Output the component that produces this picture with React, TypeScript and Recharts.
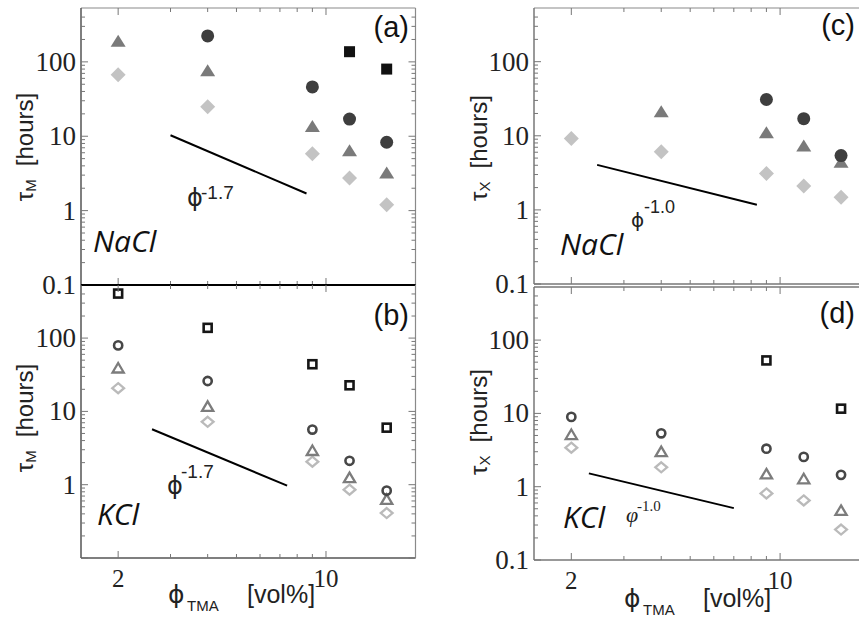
import React from 'react';
import { ScatterChart, Scatter, XAxis, YAxis } from 'recharts';

const CHART_W = 880;
const CHART_H = 621;

// ---------- categories & ticks ----------
const phi = [2, 4, 9, 12, 16];
const xDomain = [1.5, 20];
const yDomain = [0.1, 530];
const xTickValues = [2, 3, 4, 5, 6, 7, 8, 9, 10];
const xMajorTicks = [2, 10];
const xTickLabels = ['2', '10'];
const yTickValues = [0.1, 0.2, 0.3, 0.4, 0.5, 0.6, 0.7, 0.8, 0.9, 1, 2, 3, 4, 5, 6, 7, 8, 9, 10, 20, 30, 40, 50, 60, 70, 80, 90, 100, 200, 300, 400];
const yMajorTicks = [0.1, 1, 10, 100];
const yTickLabels = ['0.1', '1', '10', '100'];

// ---------- (a) NaCl, tau_M ----------
const aSquare = [null, null, null, 137, 80];
const aCircle = [null, 223, 46, 17, 8.3];
const aTriangle = [190, 76, 13.5, 6.4, 3.2];
const aDiamond = [67, 25, 5.8, 2.75, 1.2];
const aFitX = [3, 8.6];
const aFitY = [10.3, 1.7];

// ---------- (b) KCl, tau_M ----------
const bSquare = [405, 138, 44, 22.7, 6.0];
const bCircle = [79.5, 26, 5.65, 2.12, 0.83];
const bTriangle = [38.7, 11.6, 2.9, 1.24, 0.625];
const bDiamond = [20.7, 7.2, 2.06, 0.855, 0.41];
const bFitX = [2.6, 7.4];
const bFitY = [5.7, 0.97];

// ---------- (c) NaCl, tau_X ----------
const cSquare = [null, null, null, null, null];
const cCircle = [null, null, 30.9, 17, 5.4];
const cTriangle = [null, 21.1, 11, 7.3, 4.4];
const cDiamond = [9.2, 6.1, 3.1, 2.1, 1.48];
const cFitX = [2.44, 8.36];
const cFitY = [4.05, 1.17];

// ---------- (d) KCl, tau_X ----------
const dSquare = [null, null, 52.8, null, 11.6];
const dCircle = [8.96, 5.35, 3.3, 2.55, 1.45];
const dTriangle = [5.1, 2.98, 1.48, 1.27, 0.47];
const dDiamond = [3.4, 1.84, 0.81, 0.65, 0.26];
const dFitX = [2.29, 7.0];
const dFitY = [1.52, 0.51];

const toPoints = (vals: (number | null)[]) =>
  phi.map((x, i) => ({ x, y: vals[i] })).filter((p) => p.y != null);
const toLine = (xs: number[], ys: number[]) => xs.map((x, i) => ({ x, y: ys[i] }));

const FILL = { square: '#111111', circle: '#3e3e3e', triangle: '#7a7a7a', diamond: '#c3c3c3' };
const STROKE = { square: '#161616', circle: '#474747', triangle: '#7c7c7c', diamond: '#bababa' };

function Marker({ cx, cy, kind, filled }: any) {
  if (cx == null || cy == null || isNaN(cx) || isNaN(cy)) return <g />;
  if (filled) {
    const f = (FILL as any)[kind];
    if (kind === 'square') return <rect x={cx - 5.5} y={cy - 5.5} width={11} height={11} fill={f} />;
    if (kind === 'circle') return <circle cx={cx} cy={cy} r={6.5} fill={f} />;
    if (kind === 'triangle')
      return <polygon points={`${cx},${cy - 6.5} ${cx + 7.5},${cy + 5.5} ${cx - 7.5},${cy + 5.5}`} fill={f} />;
    return <polygon points={`${cx},${cy - 7.5} ${cx + 7.5},${cy} ${cx},${cy + 7.5} ${cx - 7.5},${cy}`} fill={f} />;
  }
  const s = (STROKE as any)[kind];
  if (kind === 'square')
    return <rect x={cx - 4} y={cy - 4} width={8} height={8} fill="none" stroke={s} strokeWidth={2.6} />;
  if (kind === 'circle') return <circle cx={cx} cy={cy} r={4.1} fill="none" stroke={s} strokeWidth={2.6} />;
  if (kind === 'triangle')
    return (
      <polygon
        points={`${cx},${cy - 5.3} ${cx + 5.6},${cy + 4.2} ${cx - 5.6},${cy + 4.2}`}
        fill="none"
        stroke={s}
        strokeWidth={2.3}
        strokeLinejoin="miter"
      />
    );
  return (
    <polygon
      points={`${cx},${cy - 5} ${cx + 5.9},${cy} ${cx},${cy + 5} ${cx - 5.9},${cy}`}
      fill="none"
      stroke={s}
      strokeWidth={2.3}
    />
  );
}

const TICK_COLOR = '#777';
const LW = 30;
const RW = 6;
const TH = 4;
const BH = 30;

function makeYTick(side: 'left' | 'right', labelVals: number[]) {
  return (props: any) => {
    const { x, y, payload } = props;
    const v = payload.value;
    const idx = yMajorTicks.indexOf(v);
    const len = idx >= 0 ? 7 : 4;
    const dir = side === 'left' ? 1 : -1;
    return (
      <g>
        <line x1={x} x2={x + dir * len} y1={y} y2={y} stroke={TICK_COLOR} strokeWidth={1} />
        {side === 'left' && idx >= 0 && labelVals.includes(v) ? (
          <text
            x={x - 5}
            y={y + 9}
            textAnchor="end"
            fontFamily="'Liberation Serif', 'DejaVu Serif', serif"
            fontSize={27}
            fill="#222"
          >
            {yTickLabels[idx]}
          </text>
        ) : null}
      </g>
    );
  };
}

function makeXTick(side: 'top' | 'bottom', showLabels: boolean) {
  return (props: any) => {
    const { x, y, payload } = props;
    const v = payload.value;
    const idx = xMajorTicks.indexOf(v);
    const len = idx >= 0 ? 7 : 4;
    const dir = side === 'bottom' ? -1 : 1;
    return (
      <g>
        <line x1={x} x2={x} y1={y} y2={y + dir * len} stroke={TICK_COLOR} strokeWidth={1} />
        {side === 'bottom' && showLabels && idx >= 0 ? (
          <text
            x={x}
            y={y + 29}
            textAnchor="middle"
            fontFamily="'Liberation Serif', 'DejaVu Serif', serif"
            fontSize={25}
            fill="#222"
          >
            {xTickLabels[idx]}
          </text>
        ) : null}
      </g>
    );
  };
}

type Frame = { stroke: string; w: number };

function Panel({
  rect,
  sq,
  ci,
  tr,
  di,
  fit,
  filled,
  yLabels,
  xLabels,
  frame,
}: {
  rect: { x0: number; x1: number; y0: number; y1: number };
  sq: (number | null)[];
  ci: (number | null)[];
  tr: (number | null)[];
  di: (number | null)[];
  fit: { x: number; y: number }[];
  filled: boolean;
  yLabels: number[];
  xLabels: boolean;
  frame: { left: Frame; right: Frame; top: Frame; bottom: Frame };
}) {
  const margin = {
    left: rect.x0 - LW,
    right: CHART_W - rect.x1 - RW,
    top: rect.y0 - TH,
    bottom: CHART_H - rect.y1 - BH,
  };
  const series = [
    { kind: 'diamond', data: toPoints(di) },
    { kind: 'triangle', data: toPoints(tr) },
    { kind: 'circle', data: toPoints(ci) },
    { kind: 'square', data: toPoints(sq) },
  ];
  return (
    <div style={{ position: 'absolute', left: 0, top: 0, width: CHART_W, height: CHART_H }}>
      <ScatterChart width={CHART_W} height={CHART_H} margin={margin}>
        <XAxis
          xAxisId="b"
          dataKey="x"
          type="number"
          scale="log"
          domain={xDomain}
          ticks={xTickValues}
          interval={0}
          orientation="bottom"
          height={BH}
          tickSize={0}
          tickMargin={0}
          tickLine={false}
          tick={makeXTick('bottom', xLabels)}
          axisLine={{ stroke: frame.bottom.stroke, strokeWidth: frame.bottom.w }}
          allowDataOverflow
        />
        <XAxis
          xAxisId="t"
          dataKey="x"
          type="number"
          scale="log"
          domain={xDomain}
          ticks={xTickValues}
          interval={0}
          orientation="top"
          height={TH}
          tickSize={0}
          tickMargin={0}
          tickLine={false}
          tick={makeXTick('top', false)}
          axisLine={{ stroke: frame.top.stroke, strokeWidth: frame.top.w }}
          allowDataOverflow
        />
        <YAxis
          yAxisId="l"
          dataKey="y"
          type="number"
          scale="log"
          domain={yDomain}
          ticks={yTickValues}
          interval={0}
          orientation="left"
          width={LW}
          tickSize={0}
          tickMargin={0}
          tickLine={false}
          tick={makeYTick('left', yLabels)}
          axisLine={{ stroke: frame.left.stroke, strokeWidth: frame.left.w }}
          allowDataOverflow
        />
        <YAxis
          yAxisId="r"
          dataKey="y"
          type="number"
          scale="log"
          domain={yDomain}
          ticks={yTickValues}
          interval={0}
          orientation="right"
          width={RW}
          tickSize={0}
          tickMargin={0}
          tickLine={false}
          tick={makeYTick('right', [])}
          axisLine={{ stroke: frame.right.stroke, strokeWidth: frame.right.w }}
          allowDataOverflow
        />
        <Scatter
          xAxisId="b"
          yAxisId="l"
          data={fit}
          line={{ stroke: '#000', strokeWidth: 2 }}
          shape={() => <g />}
          isAnimationActive={false}
          legendType="none"
        />
        {series.map((s) => (
          <Scatter
            key={s.kind}
            xAxisId="b"
            yAxisId="l"
            data={s.data}
            shape={(p: any) => <Marker cx={p.cx} cy={p.cy} kind={s.kind} filled={filled} />}
            isAnimationActive={false}
            legendType="none"
          />
        ))}
      </ScatterChart>
    </div>
  );
}

const SANS = "'Liberation Sans', Arial, sans-serif";
const PHI_FONT = "'DejaVu Sans', 'Liberation Sans', sans-serif";
const ITAL = "'Open Sans', 'Liberation Sans', sans-serif";
const SERIF = "'Liberation Serif', 'DejaVu Serif', serif";
const PHI = '\u03D5';

function YTitle({ cx, cy, sub }: { cx: number; cy: number; sub: string }) {
  return (
    <text
      x={cx}
      y={cy}
      transform={`rotate(-90, ${cx}, ${cy})`}
      textAnchor="middle"
      dominantBaseline="central"
      fontFamily={SANS}
      fontSize={24}
      fill="#222"
    >
      τ
      <tspan fontSize={15} dy={6}>
        {sub}
      </tspan>
      <tspan dy={-6} dx={13}>
        [hours]
      </tspan>
    </text>
  );
}

function XTitle({ x, base }: { x: number; base: number }) {
  return (
    <g fill="#222">
      <text x={x} y={base} fontSize={25} fontFamily={PHI_FONT}>
        {PHI}
      </text>
      <text x={x + 19} y={base + 8} fontSize={15} fontFamily={SANS}>
        TMA
      </text>
      <text x={x + 79} y={base} fontSize={25} fontFamily={SANS}>
        [vol%]
      </text>
    </g>
  );
}

export default function App() {
  const leftFrame = { stroke: '#555', w: 1.5 };
  const lightFrame = { stroke: '#8a8a8a', w: 1.2 };
  const midBlack = { stroke: '#000', w: 2 };
  const grayFrame = { stroke: '#777', w: 1.5 };
  return (
    <div
      style={{
        position: 'absolute',
        left: 0,
        top: 0,
        width: 859,
        height: 621,
        overflow: 'hidden',
        background: '#fff',
      }}
    >
      <Panel
        rect={{ x0: 81, x1: 415.5, y0: 8, y1: 285 }}
        sq={aSquare}
        ci={aCircle}
        tr={aTriangle}
        di={aDiamond}
        fit={toLine(aFitX, aFitY)}
        filled
        yLabels={[0.1, 1, 10, 100]}
        xLabels={false}
        frame={{ left: leftFrame, right: lightFrame, top: lightFrame, bottom: midBlack }}
      />
      <Panel
        rect={{ x0: 81, x1: 415.5, y0: 285, y1: 558 }}
        sq={bSquare}
        ci={bCircle}
        tr={bTriangle}
        di={bDiamond}
        fit={toLine(bFitX, bFitY)}
        filled={false}
        yLabels={[1, 10, 100]}
        xLabels
        frame={{ left: leftFrame, right: lightFrame, top: midBlack, bottom: leftFrame }}
      />
      <Panel
        rect={{ x0: 534, x1: 870, y0: 8, y1: 284 }}
        sq={cSquare}
        ci={cCircle}
        tr={cTriangle}
        di={cDiamond}
        fit={toLine(cFitX, cFitY)}
        filled
        yLabels={[0.1, 1, 10, 100]}
        xLabels={false}
        frame={{ left: grayFrame, right: lightFrame, top: lightFrame, bottom: grayFrame }}
      />
      <Panel
        rect={{ x0: 534, x1: 870, y0: 287, y1: 560 }}
        sq={dSquare}
        ci={dCircle}
        tr={dTriangle}
        di={dDiamond}
        fit={toLine(dFitX, dFitY)}
        filled={false}
        yLabels={[0.1, 1, 10, 100]}
        xLabels
        frame={{ left: grayFrame, right: lightFrame, top: grayFrame, bottom: grayFrame }}
      />
      <svg
        width={859}
        height={621}
        style={{ position: 'absolute', left: 0, top: 0, pointerEvents: 'none' }}
      >
        {/* panel letters */}
        <g fontFamily={SANS} fontSize={29} fill="#111" textAnchor="end">
          <text x={409} y={37}>(a)</text>
          <text x={409} y={325}>(b)</text>
          <text x={855} y={35}>(c)</text>
          <text x={855} y={323}>(d)</text>
        </g>
        {/* salt labels */}
        <g fontFamily={ITAL} fontStyle="italic" fontSize={30} fill="#111">
          <text x={93} y={252}>NaCl</text>
          <text x={97} y={525}>KCl</text>
          <text x={560} y={255}>NaCl</text>
          <text x={563} y={528}>KCl</text>
        </g>
        {/* power-law labels */}
        <g fill="#222">
          <text x={187} y={206} fontSize={24} fontFamily={PHI_FONT}>{PHI}</text>
          <text x={201} y={199} fontSize={19} fontFamily={SANS}>-1.7</text>
          <text x={167} y={494} fontSize={24} fontFamily={PHI_FONT}>{PHI}</text>
          <text x={181} y={478} fontSize={19} fontFamily={SANS}>-1.7</text>
          <text x={631} y={227} fontSize={20} fontFamily={PHI_FONT}>{PHI}</text>
          <text x={644} y={213} fontSize={18} fontFamily={SANS}>-1.0</text>
        </g>
        <g fontFamily={SERIF} fill="#222">
          <text x={626} y={522} fontSize={22} fontStyle="italic">φ</text>
          <text x={637} y={511} fontSize={15}>-1.0</text>
        </g>
        {/* axis titles */}
        <YTitle cx={24} cy={147} sub="M" />
        <YTitle cx={24} cy={418} sub="M" />
        <YTitle cx={478} cy={148} sub="X" />
        <YTitle cx={478} cy={422} sub="X" />
        <XTitle x={168} base={603} />
        <XTitle x={624} base={607} />
      </svg>
    </div>
  );
}
